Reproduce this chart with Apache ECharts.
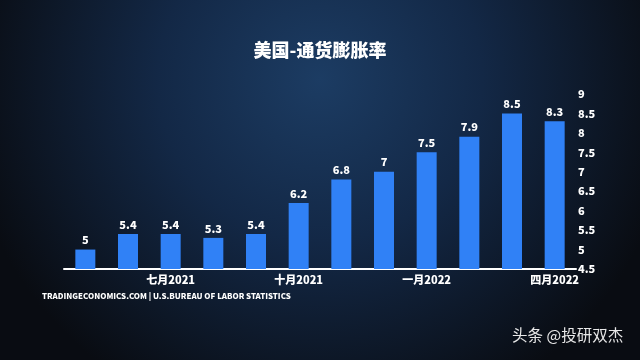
<!DOCTYPE html>
<html><head><meta charset="utf-8">
<script src="https://cdn.jsdelivr.net/npm/echarts@6/dist/echarts.min.js"></script>
<style>html,body{margin:0;padding:0;background:#0b0f17}#c{width:640px;height:360px}</style>
</head><body><div id="c"></div>
<script>
const categories = ['五月2021','六月2021','七月2021','八月2021','九月2021','十月2021','十一月2021','十二月2021','一月2022','二月2022','三月2022','四月2022'];
const shownLabels = ['七月2021','十月2021','一月2022','四月2022'];
const inflation = [5.0, 5.4, 5.4, 5.3, 5.4, 6.2, 6.8, 7.0, 7.5, 7.9, 8.5, 8.3];
const yTicks = [4.5, 5, 5.5, 6, 6.5, 7, 7.5, 8, 8.5, 9];

const FONT = '"Noto Sans CJK SC", "Noto Sans", sans-serif';
const chart = echarts.init(document.getElementById('c'), null, {renderer:'canvas'});
chart.setOption({
  animation: false,
  backgroundColor: {
    type: 'radial', x: 0.5, y: 0.22, r: 1.0,
    colorStops: [
      {offset: 0, color: '#1c3c63'},
      {offset: 0.45, color: '#132846'},
      {offset: 1, color: '#090c12'}
    ]
  },
  title: {
    text: '美国-通货膨胀率', left: 'center', top: 36,
    textStyle: {color: '#ffffff', fontSize: 18, fontWeight: 900, fontFamily: FONT}
  },
  graphic: [
    {type: 'text', left: 42, top: 292, style: {text: 'TRADINGECONOMICS.COM | U.S.BUREAU OF LABOR STATISTICS', fill: '#ffffff', font: '900 7.9px ' + FONT}},
    {type: 'text', left: 512, top: 327, style: {text: '头条 @投研双杰', fill: '#e8e8e8', font: '15.5px ' + FONT}}
  ],
  grid: {left: 64, right: 64, top: 94, bottom: 91, containLabel: false},
  xAxis: {
    type: 'category', data: categories,
    axisLine: {show: true, lineStyle: {color: '#ffffff', width: 2}},
    axisTick: {show: false},
    axisLabel: {
      interval: 0, margin: 5, color: '#ffffff', fontSize: 11, fontWeight: 900, fontFamily: FONT,
      formatter: v => shownLabels.includes(v) ? v : ''
    }
  },
  yAxis: {
    type: 'value', position: 'right', min: 4.5, max: 9, interval: 0.5,
    axisLine: {show: false}, axisTick: {show: false}, splitLine: {show: false},
    axisLabel: {margin: 2, color: '#ffffff', fontSize: 11, fontWeight: 900, fontFamily: FONT, align: 'left',
      formatter: v => yTicks.includes(v) ? String(v) : ''}
  },
  series: [{
    type: 'bar', data: inflation, barWidth: 20,
    itemStyle: {color: '#3081f6'},
    label: {show: true, position: 'top', distance: 4, color: '#ffffff', fontSize: 11, fontWeight: 900, fontFamily: FONT,
      formatter: p => String(p.value)}
  }]
});
</script></body></html>
